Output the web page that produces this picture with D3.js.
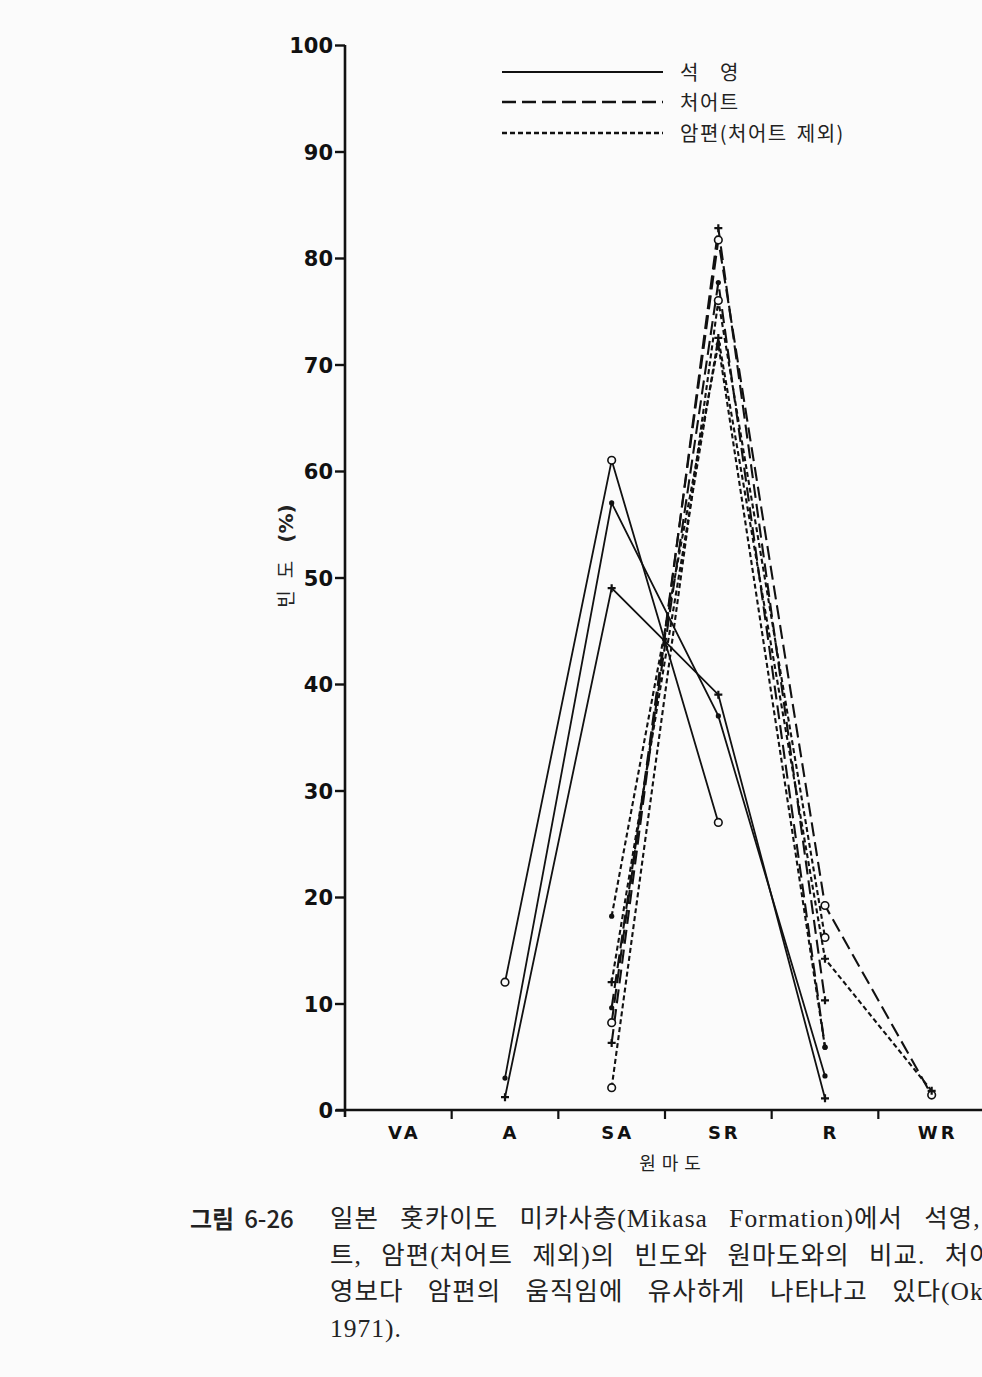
<!DOCTYPE html>
<html><head><meta charset="utf-8">
<script src="https://cdn.jsdelivr.net/npm/d3@7/dist/d3.min.js"></script>
<style>
html,body{margin:0;padding:0;background:#fbfbfb;overflow:hidden;}
svg{display:block;}
</style></head>
<body>
<script>
// ---- data ----
const categories = ["VA", "A", "SA", "SR", "R", "WR"];
const yTicks = [0, 10, 20, 30, 40, 50, 60, 70, 80, 90, 100];
const legendLabels = ["석 영", "처어트", "암편(처어트 제외)"];
// 석영 (quartz) — solid
const quartzCircle = [null, 12, 61, 27, null, null];
const quartzDot    = [null, 3, 57, 37, 3.2, null];
const quartzPlus   = [null, 1.2, 49, 39, 1.1, null];
// 처어트 (chert) — long dash
const chertCircle  = [null, null, 8.2, 81.7, 19.2, 1.4];
const chertDot     = [null, null, 9.6, 77.7, 5.9, null];
const chertPlus    = [null, null, 6.3, 82.8, 10.3, null];
// 암편 (rock fragments excl. chert) — short dash
const rockCircle   = [null, null, 2.1, 76, 16.2, null];
const rockDot      = [null, null, 18.2, 71.9, 5.9, null];
const rockPlus     = [null, null, 12, 72.5, 14.2, 1.8];
const xTitle = "원 마 도";
const yTitle = ["빈", "도", "(%)"];
const figLabel = ["그림", "6-26"];
const captionLines = [
  "일본 홋카이도 미카사층(Mikasa Formation)에서 석영, 처어",
  "트, 암편(처어트 제외)의 빈도와 원마도와의 비교. 처어트는 석",
  "영보다 암편의 움직임에 유사하게 나타나고 있다(Okada,",
  "1971)."
];
const captionWordSpacing = [14, 12, 17, 0];

const series = [
  {v: quartzCircle, type: "solid", m: "circle"},
  {v: quartzDot, type: "solid", m: "dot"},
  {v: quartzPlus, type: "solid", m: "plus"},
  {v: chertCircle, type: "long", m: "circle"},
  {v: chertDot, type: "long", m: "dot"},
  {v: chertPlus, type: "long", m: "plus"},
  {v: rockCircle, type: "short", m: "circle"},
  {v: rockDot, type: "short", m: "dot"},
  {v: rockPlus, type: "short", m: "plus"}
];
const dashes = {solid: null, long: "14,6", short: "5,3"};

const W = 982, H = 1377;
const svg = d3.select("body").append("svg").attr("width", W).attr("height", H);

const x = d3.scaleBand().domain(categories).range([345, 985]).paddingInner(0).paddingOuter(0);
const y = d3.scaleLinear().domain([0, 100]).range([1110, 45]);
const cx = c => x(c) + x.bandwidth() / 2;

// y axis
const yAxis = svg.append("g").attr("transform", "translate(345,0)")
  .call(d3.axisLeft(y).tickValues(yTicks).tickSize(10).tickPadding(2));
yAxis.select(".domain").attr("d", `M0,${y(100)}V${y(0) + 7}`).attr("stroke", "#111").attr("stroke-width", 2.6);
yAxis.selectAll(".tick line").attr("stroke", "#111").attr("stroke-width", 2.4);
yAxis.selectAll(".tick text").attr("fill", "#111").attr("dy", "0.36em")
  .style("font-family", "'DejaVu Sans', sans-serif").style("font-weight", "bold").style("font-size", "21px");

// x axis
const xg = svg.append("g");
xg.append("line").attr("x1", 336).attr("x2", 990).attr("y1", y(0)).attr("y2", y(0))
  .attr("stroke", "#111").attr("stroke-width", 2.6);
xg.selectAll("line.bt").data(categories).join("line").attr("class", "bt")
  .attr("x1", d => x(d) + x.bandwidth()).attr("x2", d => x(d) + x.bandwidth())
  .attr("y1", y(0)).attr("y2", y(0) + 9).attr("stroke", "#111").attr("stroke-width", 2.2);
xg.selectAll("text.cl").data(categories).join("text").attr("class", "cl")
  .attr("x", d => cx(d) + 6).attr("y", y(0) + 29).attr("text-anchor", "middle")
  .style("font-family", "'DejaVu Sans', sans-serif").style("font-weight", "bold")
  .style("font-size", "18px").style("letter-spacing", "3px").attr("fill", "#111").text(d => d);
svg.append("text").attr("x", 670).attr("y", 1170).attr("text-anchor", "middle")
  .style("font-family", "'Noto Sans CJK KR', sans-serif").style("font-size", "18px")
  .style("word-spacing", "2px").attr("fill", "#222").text(xTitle);

// y title (rotated)
const yt = svg.append("text").attr("transform", "translate(293,556) rotate(-90)").attr("text-anchor", "middle")
  .style("font-family", "'Noto Sans CJK KR', sans-serif").style("font-size", "19px").attr("fill", "#222");
yt.append("tspan").text(yTitle[0]);
yt.append("tspan").attr("dx", 12).text(yTitle[1]);
yt.append("tspan").attr("dx", 18).style("font-weight", "bold").style("font-family", "'DejaVu Sans', sans-serif").style("font-size", "20px").text(yTitle[2]);

// lines
const line = d3.line().defined(d => d.v != null).x(d => cx(d.c)).y(d => y(d.v));
const plot = svg.append("g");
series.forEach(s => {
  const pts = categories.map((c, i) => ({c, v: s.v[i]}));
  plot.append("path").datum(pts).attr("d", line).attr("fill", "none")
    .attr("stroke", "#111").attr("stroke-width", s.type === "solid" ? 1.8 : 2.1)
    .attr("stroke-dasharray", dashes[s.type]);
});
// markers
series.forEach(s => {
  const pts = categories.map((c, i) => ({c, v: s.v[i]})).filter(d => d.v != null);
  const g = plot.append("g");
  if (s.m === "circle") {
    g.selectAll("circle").data(pts).join("circle").attr("cx", d => cx(d.c)).attr("cy", d => y(d.v))
      .attr("r", 3.8).attr("fill", "#fbfbfb").attr("stroke", "#111").attr("stroke-width", 1.6);
  } else if (s.m === "dot") {
    g.selectAll("circle").data(pts).join("circle").attr("cx", d => cx(d.c)).attr("cy", d => y(d.v))
      .attr("r", 2.6).attr("fill", "#111");
  } else {
    g.selectAll("path").data(pts).join("path")
      .attr("d", d => { const px = cx(d.c), py = y(d.v); return `M${px - 4},${py}H${px + 4}M${px},${py - 4}V${py + 4}`; })
      .attr("stroke", "#111").attr("stroke-width", 2.2);
  }
});

// legend
const lg = svg.append("g");
["solid", "long", "short"].forEach((t, i) => {
  const ly = [72, 102, 133][i];
  lg.append("line").attr("x1", 502).attr("x2", 663).attr("y1", ly).attr("y2", ly)
    .attr("stroke", "#111").attr("stroke-width", t === "solid" ? 2 : 2.6).attr("stroke-dasharray", dashes[t]);
  lg.append("text").attr("x", 680).attr("y", ly + 8)
    .style("font-family", "'Noto Sans CJK KR', sans-serif").style("font-size", "20px")
    .style("letter-spacing", "1.5px").style("word-spacing", i === 0 ? "14px" : "3px")
    .attr("fill", "#222").text(legendLabels[i]);
});

// caption
const fl = svg.append("text").attr("x", 190).attr("y", 1228)
  .style("font-family", "'Noto Sans CJK KR', sans-serif").style("font-size", "24px")
  .attr("fill", "#222");
fl.append("tspan").style("font-weight", "bold").text(figLabel[0]);
fl.append("tspan").attr("dx", 10).style("font-weight", "500").text(figLabel[1]);
svg.selectAll("text.cap").data(captionLines).join("text").attr("class", "cap")
  .attr("x", 330).attr("y", (d, i) => 1227 + i * 36.7)
  .style("font-family", "'Liberation Serif', 'Noto Sans CJK KR', serif").style("font-size", "25.5px")
  .style("letter-spacing", "1px").style("word-spacing", (d, i) => captionWordSpacing[i] + "px")
  .attr("fill", "#222").text(d => d);
</script>
</body></html>
